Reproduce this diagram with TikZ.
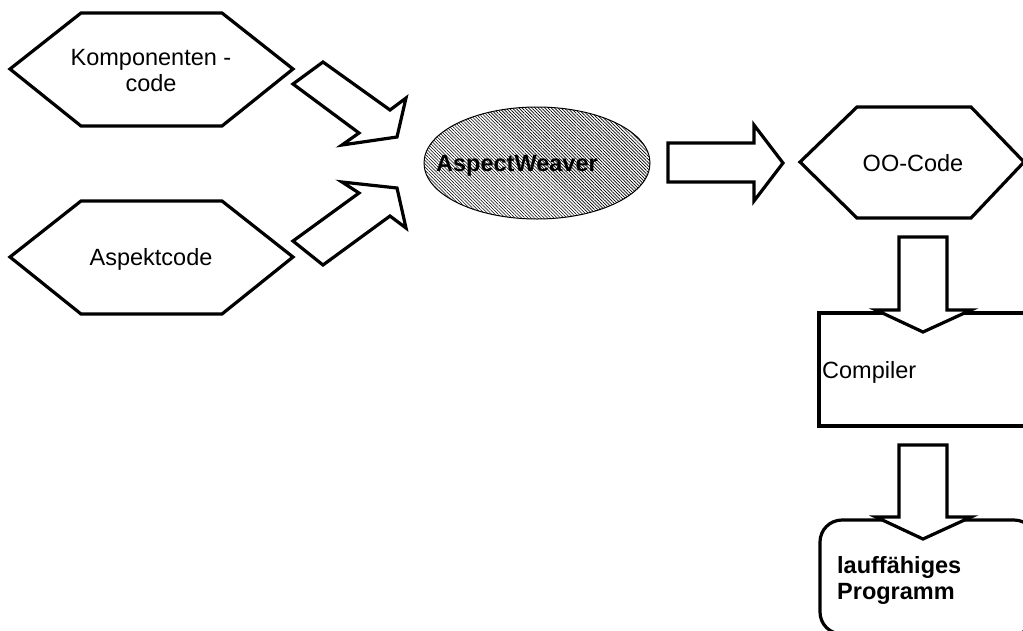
\documentclass[tikz,border=0pt]{standalone}
\usepackage{fontspec}
\setmainfont{Liberation Sans}
\usetikzlibrary{patterns.meta}
\begin{document}
\begin{tikzpicture}[x=1pt,y=-1pt,
  shapeline/.style={draw=black, line width=3.2pt, line join=miter},
  blockarrow/.style={draw=black, fill=white, line width=3.2pt, line join=miter},
  lbl/.style={font=\fontsize{23.5}{26}\selectfont, inner sep=0pt, align=center},
  blbl/.style={font=\fontsize{23.5}{26}\selectfont\bfseries, inner sep=0pt, align=left},
  hatched/.style={draw=black, line width=1pt,
    pattern={Lines[angle=-45, distance=2.3pt, line width=0.6pt]}},
]
\useasboundingbox (0,0) rectangle (1023,630);
\clip (0,0) rectangle (1023,630);
\fill[white] (0,0) rectangle (1023,630);

% --- input hexagons
\draw[shapeline] (10,69) -- (81,13) -- (222,13) -- (293,69) -- (222,126) -- (81,126) -- cycle;
\node[lbl, anchor=base] (komp) at (151,65) {Komponenten -};
\node[lbl, anchor=base] (kompb) at (151,91) {code};

\draw[shapeline] (10,257) -- (81,201) -- (222,201) -- (293,257) -- (222,314) -- (81,314) -- cycle;
\node[lbl, anchor=base] (asp) at (151,265) {Aspektcode};

% --- block arrows into the weaver
\draw[blockarrow] (293,84) -- (323,62) -- (390,110) -- (406,98) -- (397,137) -- (342,145) -- (359,133) -- cycle;
\draw[blockarrow] (293,241) -- (323,265) -- (390,216) -- (406,228) -- (397,188) -- (342,182) -- (359,193) -- cycle;

% --- weaver ellipse
\draw[hatched] (537,163) ellipse [x radius=113, y radius=56];
\node[blbl, anchor=base west] (weaver) at (436,171) {AspectWeaver};

% --- arrow to OO-Code
\draw[blockarrow] (668,143) -- (754,143) -- (754,125) -- (783,163) -- (754,201) -- (754,182) -- (668,182) -- cycle;

% --- OO-Code hexagon
\draw[shapeline] (800,162) -- (857,107) -- (971,107) -- (1024,162) -- (971,218) -- (857,218) -- cycle;
\node[lbl, anchor=base] (oo) at (913,171) {OO-Code};

% --- Compiler box
\draw[shapeline] (819,313) rectangle (1045,426);
\node[lbl, anchor=base west] (comp) at (822,378) {Compiler};
\draw[blockarrow] (899,237) -- (947,237) -- (947,310) -- (971,310) -- (923,332) -- (876,310) -- (899,310) -- cycle;

% --- result box
\draw[shapeline, rounded corners=22pt] (820,520) rectangle (1036,634);
\node[blbl, anchor=base west] (prog1) at (837,573) {lauffähiges};
\node[blbl, anchor=base west] (prog2) at (837,599) {Programm};
\draw[blockarrow] (899,445) -- (947,445) -- (947,517) -- (971,517) -- (923,539) -- (876,517) -- (899,517) -- cycle;
\end{tikzpicture}
\end{document}
